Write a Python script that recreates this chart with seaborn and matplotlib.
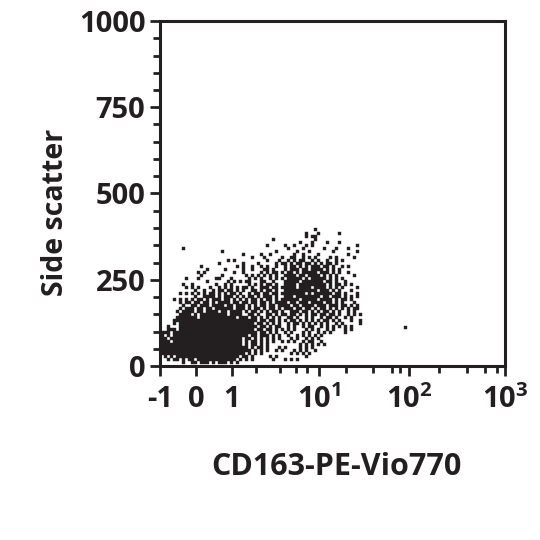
import numpy as np
import pandas as pd
import seaborn as sns
import matplotlib.pyplot as plt

# occupied cells of the dot plot (top row first)
# each character is one channel on the x axis, '#' means at least one event
occupied_rows = [
    "...................................................#",
    "................................................#...#......#",
    "................................................#.##",
    ".....................................#.............#",
    "..............................................#...#....#...#",
    "...................................#.....#..#...#.#..............#",
    ".......#..................................#....#......#...#...#",
    "....................#.................#......#...#.......#.......#",
    "...........................#.....#..#.......#..#....#.........#",
    "..............................#...#.....#..##..#.#.#....#.#.....#",
    "......................#.#..........#...#..#.#.##..#.#..#..#.#....",
    "...................#.......#....#.....#.##.#.##.##.#.#.##.#......",
    ".............#...........#.#..#..#.#..#..#.##.#.#.###.##.#..#.#...",
    "...............#.....#.....#..#...##.#...#.###.##.####.#.#.#.....",
    "............#.#.........#..#.....#.#.##.#.##.#.#####.###.#.#..#..",
    ".............#......#.......#.#.#.#.#.#..####.##.####.#.#.#.....#",
    "........#...#.....##...#.....#.#.#..#.#.#.#####.#.#####.#.#.#.....",
    "...............#......#.#.#.##...##..#...#####.#######.##.#..#....",
    ".......#..#.......#..#.#.....#.#.#.##.#..####.#########.#.##.#.#..",
    "........#.#.#...#..#.#.#.#.##.#..###.##.#####.####.####.#.#.#....#",
    "...........#..#..#.##.##.#.#..##.#.##.#..###########.###.#.#...#..",
    "......#.#.#.#.#.##.#.#.##.#..#.##.##.##.########.#.######.##.#...#",
    "...........#..####.#.###.#.#.##.#.###.#..###.########.##.###.#.#.#",
    "....#.#.#.#.##.#.###.##.#.#.#.##.#.##.#.######.#####.####.#.##.#..",
    "......#.##.##.##.#.####.##.##.##.##.#.####.##.###.####.##.#.#...#",
    ".......#..##.###.####.##.###.#.#.##.##.####.##.####.###.###.##.#.#..",
    "......#.###.##.##.######.###.#.##.#.##.#.###.##.##.#.##.#.#.#.#.##",
    ".....#.####.##.####.##.####.#.##.#.#.##.#..###.##.#.#.##.#.#..#.#..",
    "......####.#.#########.####..##.#..##.#.##.##.#.#.##.##.##.#..#.#.#",
    ".....#######.############.###.##.#.#.#.#..##.#..#.#..#.##.#..#.#..",
    "....############################.##.##.#.#.##.#.#.#.#.##.#.#...#..#",
    "....#.#########################.##.#.#.#..#.##.#.#.#.#.#..#.#.....#",
    "..#...##########################.##.#.##..#.#..#.##..#.#.#.#.#.#",
    "..###.#########################.##.##.#.#.#.#...#.#.#..#.#...#.#..",
    "###.############################.##.#.#..#.#...#.#..#.#.#....#",
    "#.#.#########################.##.###.#.#..#..#.#.#.#.#.....",
    "##.########################.##.#.#.#.#.#...#.#..#.#.#..",
    "###.#######################.#.##.#.#.#..#.#.#..#.##..#..",
    "###########################.#.##.#.#..........#.#.#.#.#..",
    "#############################.#.##.#...#.#....#.#.#.....",
    "##############################.#.#.#..#.#...#.#.#..#......",
    "############################.#.#.#.........#.#.#.#.....",
    ".#.#.#####################.##.#.....#.#.........#.....",
    "..#.##.#.##.#############.#.#.#......#...#.#.#...........",
    ".......#..##.###.#.###.#.#.....................",
]
outlier_channel = [81.7]
outlier_ssc = [113]

x_major = [0, 12, 24, 53, 83, 115]
x_minor = [32, 40, 45.3, 49, 62, 71, 77.3, 80, 93, 102.3, 108.3, 112.3]
x_labels = ['-1', '0', '1', r'10$^{\mathdefault{1}}$', r'10$^{\mathdefault{2}}$', r'10$^{\mathdefault{3}}$']
y_major = [0, 250, 500, 750, 1000]
y_minor = [50, 100, 150, 200, 300, 350, 400, 450, 550, 600, 650, 700, 800, 850, 900, 950]

INK = '#231f20'

channels = []
ssc = []
for r, row in enumerate(occupied_rows):
    for c, ch in enumerate(row):
        if ch == '#':
            channels.append(c + 0.5)
            ssc.append((45.5 - r) * 1000 / 115)
channels += outlier_channel
ssc += outlier_ssc
df = pd.DataFrame({'channel': channels, 'ssc': ssc})

sns.set_style('ticks')
plt.rcParams['font.family'] = ['Open Sans', 'DejaVu Sans']
plt.rcParams['font.weight'] = 'bold'
plt.rcParams['mathtext.default'] = 'regular'

fig = plt.figure(figsize=(5.4, 5.4), dpi=100)
ax = fig.add_axes([160 / 540, 174 / 540, 345 / 540, 345 / 540])

sns.scatterplot(data=df, x='channel', y='ssc', marker='s', s=6, color=INK,
                linewidth=0, ax=ax)
ax.collections[0].set_snap(False)

ax.set_xlim(0, 115)
ax.set_ylim(0, 1000)
ax.set_xticks(x_major)
ax.set_xticklabels(x_labels)
ax.set_xticks(x_minor, minor=True)
ax.set_yticks(y_major)
ax.set_yticks(y_minor, minor=True)

ax.tick_params(axis='both', which='major', length=7.5, width=2, color=INK,
               labelcolor=INK, labelsize=21)
ax.tick_params(axis='x', which='major', pad=6)
ax.tick_params(axis='y', which='major', pad=3)
ax.tick_params(axis='both', which='minor', length=5, width=2, color=INK)
for spine in ax.spines.values():
    spine.set_visible(True)
    spine.set_linewidth(2.2)
    spine.set_color(INK)

ax.set_xlabel('CD163-PE-Vio770', fontsize=22, color=INK, fontweight='bold')
ax.set_ylabel('Side scatter', fontsize=20.5, color=INK, fontweight='bold')
ax.xaxis.set_label_coords(0.51, -0.25)
ax.yaxis.set_label_coords(-0.26, 0.446)

fig.savefig('out.png', dpi=100)
